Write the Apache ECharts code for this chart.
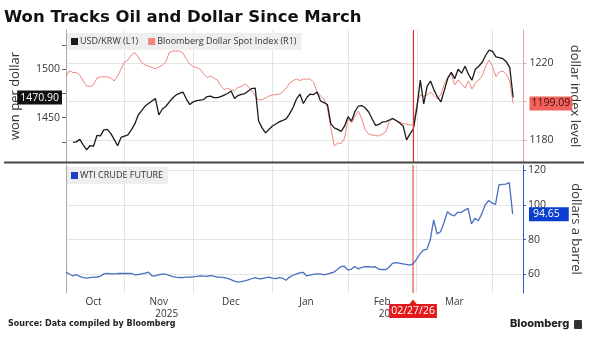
<!DOCTYPE html>
<html lang="en">
<head>
<meta charset="UTF-8" />
<title>Won Tracks Oil and Dollar Since March</title>
<script src="https://cdn.jsdelivr.net/npm/echarts@6/dist/echarts.min.js"></script>
<style>
    body {
        margin: 0;
        padding: 0;
        background: #fff;
    }
    #chart {
        width: 590px;
        height: 341px;
    }
</style>
</head>
<body>
<div id="chart"></div>
<script>
    // trading days, Oct 9 2025 .. Apr 14 2026 (last 3 are empty room on the right)
    let firstDay = '2025-10-09';
    let dayCount = 134;

    let monthStarts = ['2025-11-03', '2025-12-01', '2026-01-01', '2026-02-02', '2026-03-02', '2026-04-01'];
    let labelDates = ['2025-10-21', '2025-11-17', '2025-12-16', '2026-01-15', '2026-02-16', '2026-03-17'];
    let monthLabels = ['Oct', 'Nov', 'Dec', 'Jan', 'Feb', 'Mar'];
    let yearLabels = ['', '2025', '', '', '2026', ''];
    let markDate = '2026-02-27';

    // axis ranges
    let krwRange = [1404, 1541];
    let dxyRange = [1168.5, 1237.4];
    let wtiRange = [49.3, 122.9];

    let usdKrw = [
        null, null, 1424.4, 1424.9, 1427.5, 1421.8, 1416.6, 1421.1, 1420.3, 1431.6,
        1431.1, 1437.3, 1437.8, 1433.7, 1427.5, 1420.8, 1429.5, 1430.8, 1432.1, 1437.3,
        1443.5, 1452.8, 1457.4, 1462.1, 1464.7, 1467.3, 1469.8, 1452.8, 1459.0, 1461.6,
        1466.2, 1470.4, 1473.5, 1475.2, 1476.6, 1469.3, 1463.6, 1466.5, 1467.8, 1468.3,
        1468.8, 1471.9, 1472.4, 1470.9, 1470.9, 1471.9, 1473.5, 1475.1, 1477.6, 1469.8,
        1472.9, 1474.2, 1475.0, 1477.6, 1480.2, 1480.7, 1446.6, 1439.4, 1434.2, 1437.8,
        1441.4, 1443.5, 1445.6, 1447.1, 1448.7, 1453.9, 1460.5, 1469.3, 1474.5, 1464.7,
        1470.9, 1474.5, 1474.0, 1476.6, 1467.3, 1465.6, 1463.7, 1443.5, 1439.4, 1437.8,
        1435.8, 1441.4, 1451.1, 1446.4, 1456.4, 1462.1, 1462.6, 1460.0, 1455.9, 1448.7,
        1442.0, 1443.0, 1445.6, 1445.9, 1447.6, 1449.2, 1447.1, 1444.5, 1441.4, 1427.0,
        1433.2, 1438.3, 1460.0, 1488.9, 1464.2, 1482.8, 1487.9, 1478.6, 1471.4, 1466.5,
        1478.6, 1491.0, 1497.2, 1490.5, 1500.3, 1496.2, 1503.4, 1495.1, 1488.9, 1500.3,
        1503.4, 1507.5, 1514.8, 1520.0, 1518.9, 1513.2, 1512.4, 1511.2, 1508.1, 1501.9,
        1470.90
    ];

    let dollarIndex = [
        1212.9, 1216.2, 1215.2, 1215.2, 1213.9, 1210.8, 1208.2, 1207.9, 1208.7, 1212.3,
        1212.9, 1213.0, 1212.9, 1212.3, 1210.8, 1213.4, 1217.0, 1220.7, 1221.7, 1224.3,
        1225.6, 1223.3, 1220.4, 1219.1, 1218.6, 1217.8, 1217.2, 1218.1, 1219.1, 1220.7,
        1225.6, 1226.4, 1226.4, 1226.4, 1225.4, 1222.2, 1219.6, 1218.2, 1217.8, 1217.0,
        1214.4, 1212.6, 1213.4, 1212.3, 1211.3, 1208.2, 1206.3, 1206.9, 1206.1, 1205.8,
        1207.4, 1207.9, 1209.2, 1207.9, 1205.6, 1202.9, 1200.9, 1201.1, 1201.9, 1202.9,
        1203.5, 1203.7, 1204.0, 1205.0, 1207.1, 1209.7, 1211.0, 1211.8, 1211.0, 1211.8,
        1211.8, 1211.8, 1210.0, 1205.0, 1202.9, 1201.4, 1196.7, 1186.2, 1176.9, 1178.4,
        1178.2, 1181.0, 1191.2, 1188.9, 1192.5, 1195.1, 1190.9, 1185.2, 1183.1, 1182.6,
        1182.3, 1182.1, 1183.1, 1184.2, 1189.9, 1190.9, 1189.9, 1189.4, 1188.6, 1188.3,
        1187.8, 1187.8, 1198.8, 1203.5, 1202.7, 1203.5, 1205.0, 1203.2, 1201.4, 1204.0,
        1209.2, 1212.9, 1214.4, 1208.7, 1211.3, 1209.2, 1207.1, 1210.8, 1206.6, 1209.7,
        1211.3, 1213.4, 1218.6, 1221.7, 1218.3, 1213.0, 1215.5, 1216.0, 1214.2, 1210.8,
        1199.09
    ];

    let wti = [
        61.5, 60.1, 59.2, 59.8, 58.9, 58.2, 57.9, 58.2, 58.4, 58.5,
        58.9, 60.3, 60.6, 60.3, 60.3, 60.5, 60.5, 60.5, 60.5, 60.6,
        59.8, 59.9, 60.3, 60.7, 61.3, 59.2, 59.2, 59.8, 60.1, 60.2,
        59.5, 58.7, 58.4, 58.2, 58.2, 58.4, 58.4, 58.6, 58.8, 59.1,
        59.0, 58.8, 59.3, 59.0, 58.4, 58.4, 58.2, 57.7, 57.0, 56.1,
        55.6, 55.9, 56.3, 56.8, 57.5, 58.2, 57.6, 57.5, 58.0, 58.4,
        57.8, 57.6, 58.2, 57.8, 56.6, 58.3, 59.5, 60.2, 60.9, 61.2,
        59.2, 59.6, 60.0, 60.3, 60.3, 59.8, 60.2, 60.8, 61.3, 62.9,
        64.4, 64.7, 62.6, 62.9, 64.5, 63.2, 63.9, 64.4, 64.5, 64.2,
        64.4, 62.9, 62.8, 62.7, 64.1, 66.3, 66.8, 66.5, 66.1, 65.7,
        65.3, 66.0, 68.7, 71.8, 73.9, 74.4, 79.9, 91.4, 83.3, 84.5,
        89.7, 96.0, 94.3, 93.7, 95.7, 95.7, 96.8, 98.0, 89.1, 92.2,
        90.8, 94.8, 100.0, 102.5, 101.1, 100.2, 111.5, 111.7, 111.9, 112.8,
        94.65
    ];

    // weekday calendar for the category axis
    let days = [];
    let d = new Date(firstDay + 'T00:00:00Z');
    while (days.length < dayCount) {
        let wd = d.getUTCDay();
        if (wd !== 0 && wd !== 6) {
            days.push(d.toISOString().slice(0, 10));
        }
        d.setUTCDate(d.getUTCDate() + 1);
    }

    let font = 'Open Sans';
    let gridColor = '#e4e4e4';
    let redLine = '#e0302a';
    let hidden = { color: 'rgba(0,0,0,0)', width: 0 };

    function xAxisFor(gridIndex, showLabels) {
        return {
            type: 'category',
            gridIndex: gridIndex,
            data: days,
            boundaryGap: false,
            axisLine: { show: false },
            axisTick: { show: false },
            axisLabel: {
                show: showLabels,
                interval: (i, v) => labelDates.indexOf(v) >= 0,
                margin: 3,
                color: '#333',
                fontFamily: font,
                fontSize: 10,
                lineHeight: 12,
                formatter: (v) => {
                    let k = labelDates.indexOf(v);
                    if (k < 0) return '';
                    return yearLabels[k] ? monthLabels[k] + '\n{y|' + yearLabels[k] + '}' : monthLabels[k];
                },
                rich: {
                    y: { fontFamily: font, fontSize: 10, color: '#333', padding: [0, 0, 0, 16] }
                }
            },
            splitLine: {
                show: true,
                interval: (i, v) => monthStarts.indexOf(v) >= 0,
                lineStyle: { color: gridColor, width: 1 }
            }
        };
    }

    function valueTag(text, bg, fg, pos, pad) {
        return {
            show: true,
            position: pos,
            distance: pos === 'start' ? 4 : 6,
            formatter: text,
            color: fg,
            backgroundColor: bg,
            padding: pad,
            fontSize: 10.5,
            fontFamily: font
        };
    }

    // vertical 02/27/26 line, drawn as a two point series from axis min to max
    function markerLine(xIdx, yIdx, range, width) {
        return {
            name: 'marker' + xIdx,
            type: 'line',
            xAxisIndex: xIdx,
            yAxisIndex: yIdx,
            data: [[markDate, range[0]], [markDate, range[1]]],
            showSymbol: false,
            silent: true,
            z: 5,
            color: redLine,
            itemStyle: { color: redLine },
            lineStyle: { color: redLine, width: width }
        };
    }

    let chart = echarts.init(document.getElementById('chart'));
    let option = {
        animation: false,
        backgroundColor: '#fff',
        textStyle: { fontFamily: font },
        graphic: [
            {
                type: 'text',
                left: 4,
                top: 9,
                style: { text: 'Won Tracks Oil and Dollar Since March', font: 'bold 16.5px "DejaVu Sans"', fill: '#111' }
            },
            {
                type: 'line',
                shape: { x1: 4, y1: 162.5, x2: 584, y2: 162.5 },
                style: { stroke: '#444', lineWidth: 2 },
                z: 10
            },
            {
                type: 'text',
                left: 8,
                top: 320,
                style: { text: 'Source: Data compiled by Bloomberg', font: 'bold 8px "DejaVu Sans"', fill: '#222' }
            },
            {
                type: 'text',
                left: 510,
                top: 318,
                style: { text: 'Bloomberg', font: '800 11px Inter', fill: '#222' }
            },
            {
                type: 'rect',
                shape: { x: 574, y: 320, width: 8, height: 9, r: 1 },
                style: { fill: '#333' }
            }
        ],
        legend: [
            {
                left: 67,
                top: 33,
                padding: [4, 5, 4, 4],
                backgroundColor: '#eeeeee',
                itemWidth: 7,
                itemHeight: 7,
                itemGap: 10,
                icon: 'rect',
                data: ['USD/KRW (L1)', 'Bloomberg Dollar Spot Index (R1)'],
                textStyle: { fontSize: 9, color: '#333', fontFamily: font, padding: [0, 0, 0, -3] }
            },
            {
                left: 67,
                top: 167,
                padding: [4, 5, 4, 4],
                backgroundColor: '#eeeeee',
                itemWidth: 7,
                itemHeight: 7,
                icon: 'rect',
                data: ['WTI CRUDE FUTURE'],
                textStyle: { fontSize: 9, color: '#333', fontFamily: font, padding: [0, 0, 0, -3] }
            }
        ],
        grid: [
            { left: 66, right: 66.5, top: 30, bottom: 179 },
            { left: 66, right: 66.5, top: 165, bottom: 48 }
        ],
        xAxis: [xAxisFor(0, false), xAxisFor(1, true)],
        yAxis: [
            {
                type: 'value',
                gridIndex: 0,
                position: 'left',
                min: krwRange[0],
                max: krwRange[1],
                name: 'won per dollar',
                nameLocation: 'middle',
                nameGap: 44,
                nameRotate: 90,
                nameTextStyle: { fontSize: 13, color: '#333', fontFamily: font },
                axisLine: { show: true, lineStyle: { color: '#aaa' } },
                axisTick: { show: true, length: 4, customValues: [1425, 1450, 1475, 1500, 1525], lineStyle: { color: '#666' } },
                axisLabel: { customValues: [1450, 1500], formatter: (v) => String(v), color: '#333', fontSize: 10.5, margin: 6 },
                splitLine: { show: false }
            },
            {
                type: 'value',
                gridIndex: 0,
                position: 'right',
                min: dxyRange[0],
                max: dxyRange[1],
                name: 'dollar index level',
                nameLocation: 'middle',
                nameGap: 45,
                nameRotate: -90,
                nameTextStyle: { fontSize: 13, color: '#333', fontFamily: font },
                axisLine: { show: true, lineStyle: { color: '#e9a19c' } },
                axisTick: { show: true, length: 3, customValues: [1180, 1200, 1220], lineStyle: { color: '#e9a19c' } },
                axisLabel: { customValues: [1180, 1220], formatter: (v) => String(v), color: '#333', fontSize: 10.5, margin: 6 },
                splitLine: { show: true, lineStyle: { color: gridColor } }
            },
            {
                type: 'value',
                gridIndex: 1,
                position: 'right',
                min: wtiRange[0],
                max: wtiRange[1],
                name: 'dollars a barrel',
                nameLocation: 'middle',
                nameGap: 46,
                nameRotate: -90,
                nameTextStyle: { fontSize: 13, color: '#333', fontFamily: font },
                axisLine: { show: true, lineStyle: { color: '#2d5bc4' } },
                axisTick: { show: true, length: 3, customValues: [60, 80, 100, 120], lineStyle: { color: '#2d5bc4' } },
                axisLabel: { customValues: [60, 80, 100, 120], color: '#333', fontSize: 10.5, margin: 5 },
                splitLine: { show: true, lineStyle: { color: gridColor } }
            },
            {
                type: 'value',
                gridIndex: 1,
                position: 'left',
                min: 0,
                max: 1,
                axisLine: { show: true, lineStyle: { color: '#aaa' } },
                axisTick: { show: false },
                axisLabel: { show: false },
                splitLine: { show: false }
            }
        ],
        series: [
            {
                name: 'Bloomberg Dollar Spot Index (R1)',
                type: 'line',
                xAxisIndex: 0,
                yAxisIndex: 1,
                data: dollarIndex,
                showSymbol: false,
                color: '#f0867e',
                lineStyle: { width: 1, color: '#f0867e' },
                markLine: {
                    silent: true,
                    symbol: 'none',
                    lineStyle: hidden,
                    data: [
                        {
                            yAxis: dollarIndex[dollarIndex.length - 1],
                            label: valueTag('1199.09', '#f0625c', '#4a0a0a', 'end', [2, 2, 1, 2])
                        }
                    ]
                }
            },
            {
                name: 'USD/KRW (L1)',
                type: 'line',
                xAxisIndex: 0,
                yAxisIndex: 0,
                data: usdKrw,
                showSymbol: false,
                color: '#1a1a1a',
                lineStyle: { width: 1.3, color: '#1a1a1a' },
                markLine: {
                    silent: true,
                    symbol: 'none',
                    lineStyle: hidden,
                    data: [
                        {
                            yAxis: usdKrw[usdKrw.length - 1],
                            label: valueTag('1470.90', '#111', '#fff', 'start', [2, 3, 1, 3])
                        }
                    ]
                }
            },
            markerLine(0, 1, dxyRange, 1.2),
            Object.assign(markerLine(1, 2, wtiRange, 1), {
                markPoint: {
                    silent: true,
                    symbol: 'triangle',
                    symbolSize: [8, 5],
                    symbolOffset: [0, 9],
                    itemStyle: { color: '#e3191b' },
                    label: { show: false },
                    data: [{ coord: [markDate, wtiRange[0]] }]
                },
                markLine: {
                    silent: true,
                    symbol: 'none',
                    lineStyle: hidden,
                    data: [
                        {
                            xAxis: markDate,
                            label: {
                                show: true,
                                position: 'start',
                                distance: 11,
                                formatter: '02/27/26',
                                color: '#fff',
                                backgroundColor: '#e3191b',
                                padding: [2, 2, 1, 2],
                                fontSize: 10.5,
                                fontFamily: font
                            }
                        }
                    ]
                }
            }),
            {
                name: 'WTI CRUDE FUTURE',
                type: 'line',
                xAxisIndex: 1,
                yAxisIndex: 2,
                data: wti,
                showSymbol: false,
                color: '#1f3fc4',
                lineStyle: { width: 1.3, color: '#4a6fc0' },
                markLine: {
                    silent: true,
                    symbol: 'none',
                    lineStyle: hidden,
                    data: [
                        {
                            yAxis: wti[wti.length - 1],
                            label: valueTag('94.65', '#0b3fd0', '#fff', 'end', [2, 9, 1, 4])
                        }
                    ]
                }
            }
        ]
    };
    chart.setOption(option);
</script>
</body>
</html>
